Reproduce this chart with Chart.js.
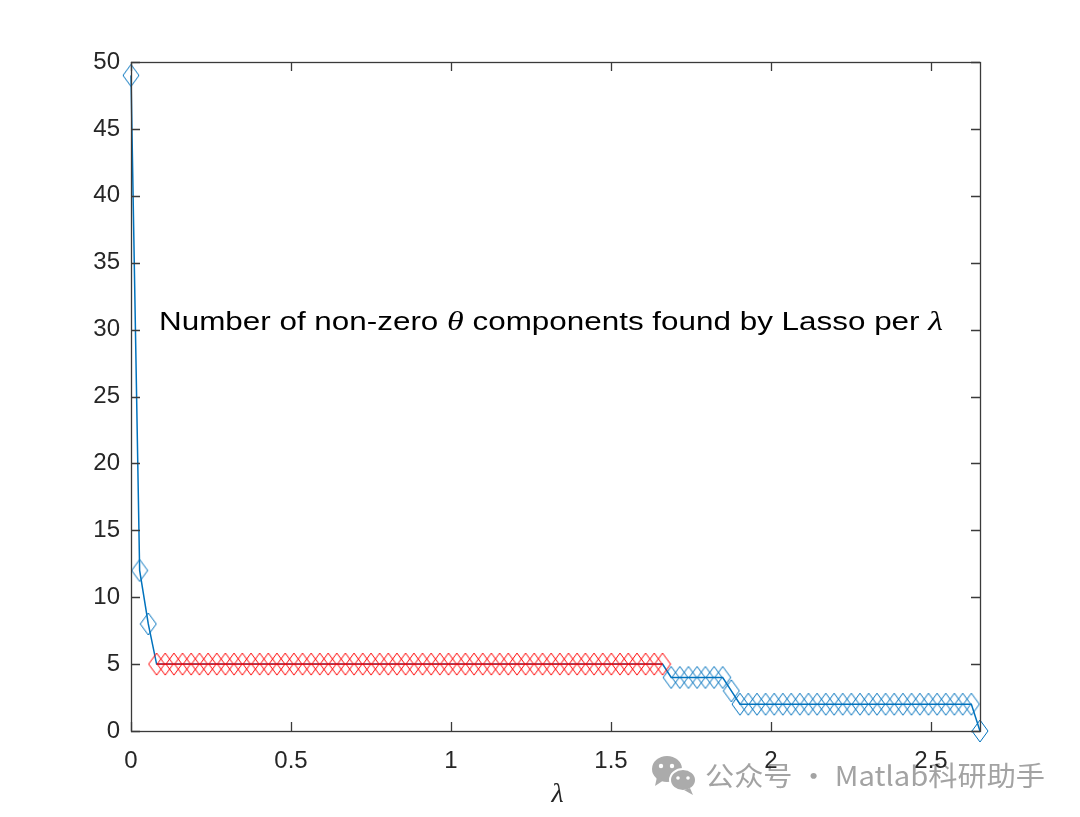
<!DOCTYPE html>
<html>
<head>
<meta charset="utf-8">
<script src="https://cdn.jsdelivr.net/npm/chart.js@4.4.1/dist/chart.umd.min.js"></script>
<style>
  html, body { margin: 0; padding: 0; background: #fff; }
  #grafico { display: block; }
</style>
</head>
<body>
<canvas id="grafico" width="1080" height="817"></canvas>
<script>
// valores de lambda (eixo x)
const lambdas = [
  0.000, 0.027, 0.054, 0.080, 0.107, 0.134, 0.161, 0.188, 0.214, 0.241,
  0.268, 0.295, 0.322, 0.348, 0.375, 0.402, 0.429, 0.456, 0.482, 0.509,
  0.536, 0.563, 0.590, 0.616, 0.643, 0.670, 0.697, 0.724, 0.750, 0.777,
  0.804, 0.831, 0.858, 0.884, 0.911, 0.938, 0.965, 0.992, 1.018, 1.045,
  1.072, 1.099, 1.126, 1.152, 1.179, 1.206, 1.233, 1.260, 1.286, 1.313,
  1.340, 1.367, 1.394, 1.420, 1.447, 1.474, 1.501, 1.528, 1.554, 1.581,
  1.608, 1.635, 1.661, 1.688, 1.715, 1.742, 1.769, 1.795, 1.822, 1.849,
  1.876, 1.903, 1.929, 1.956, 1.983, 2.010, 2.037, 2.063, 2.090, 2.117,
  2.144, 2.171, 2.197, 2.224, 2.251, 2.278, 2.305, 2.331, 2.358, 2.385,
  2.412, 2.439, 2.465, 2.492, 2.519, 2.546, 2.573, 2.599, 2.626, 2.653
];

// numero de componentes nao nulos por lambda
const numNaoNulos = [
  49, 12, 8, 5, 5, 5, 5, 5, 5, 5,
  5, 5, 5, 5, 5, 5, 5, 5, 5, 5,
  5, 5, 5, 5, 5, 5, 5, 5, 5, 5,
  5, 5, 5, 5, 5, 5, 5, 5, 5, 5,
  5, 5, 5, 5, 5, 5, 5, 5, 5, 5,
  5, 5, 5, 5, 5, 5, 5, 5, 5, 5,
  5, 5, 5, 4, 4, 4, 4, 4, 4, 4,
  3, 2, 2, 2, 2, 2, 2, 2, 2, 2,
  2, 2, 2, 2, 2, 2, 2, 2, 2, 2,
  2, 2, 2, 2, 2, 2, 2, 2, 2, 0
];

// trecho destacado em vermelho (indices)
const inicioDestaque = 3;
const fimDestaque = 62;

const xTicks = [0, 0.5, 1, 1.5, 2, 2.5];
const yTicks = [0, 5, 10, 15, 20, 25, 30, 35, 40, 45, 50];
const xMax = 2.653;

const corAzul = '#0072BD';
const corVermelha = '#FF0000';
const corEixo = '#262626';

function criarLosango(cor) {
    let c = document.createElement('canvas');
    c.width = 18;
    c.height = 24;
    let g = c.getContext('2d');
    g.strokeStyle = cor;
    g.lineWidth = 1;
    g.beginPath();
    g.moveTo(9, 1);
    g.lineTo(17, 12);
    g.lineTo(9, 23);
    g.lineTo(1, 12);
    g.closePath();
    g.stroke();
    return c;
}

function pontos(i0, i1) {
    let arr = [];
    for (let i = i0; i <= i1; i++) {
        arr.push({ x: lambdas[i], y: numNaoNulos[i] });
    }
    return arr;
}

const losangoAzul = criarLosango(corAzul);
const losangoVermelho = criarLosango(corVermelha);

const eixosMatlab = {
    id: 'eixosMatlab',
    beforeDraw(chart) {
        // marca d'agua
        const ctx = chart.ctx;
        ctx.save();
        ctx.fillStyle = '#ababab';
        ctx.beginPath();
        ctx.ellipse(667, 769, 15, 13, 0, 0, Math.PI * 2);
        ctx.fill();
        ctx.beginPath();
        ctx.moveTo(657, 777); ctx.lineTo(655, 786); ctx.lineTo(664, 780); ctx.fill();
        ctx.strokeStyle = '#fff';
        ctx.lineWidth = 2;
        ctx.beginPath();
        ctx.ellipse(683, 780, 13, 11, 0, 0, Math.PI * 2);
        ctx.fill();
        ctx.stroke();
        ctx.beginPath();
        ctx.moveTo(690, 788); ctx.lineTo(693, 795); ctx.lineTo(684, 790); ctx.fill();
        ctx.fillStyle = '#fff';
        [[661, 766, 2.2], [672, 766, 2.2], [678, 778, 1.8], [688, 778, 1.8]].forEach(p => {
            ctx.beginPath();
            ctx.arc(p[0], p[1], p[2], 0, Math.PI * 2);
            ctx.fill();
        });
        ctx.fillStyle = '#a3a3a3';
        ctx.font = '27px "Noto Sans CJK SC"';
        ctx.textBaseline = 'alphabetic';
        const wm = '公众号 · Matlab科研助手';
        const w = ctx.measureText(wm).width;
        ctx.save();
        ctx.translate(705, 786);
        ctx.scale(340 / w, 1);
        ctx.fillText(wm, 0, 0);
        ctx.restore();
        ctx.restore();
    },
    afterDraw(chart) {
        const { ctx, chartArea: a, scales: { x, y } } = chart;
        ctx.save();
        ctx.strokeStyle = '#3a3a3a';
        ctx.lineWidth = 1.3;
        ctx.strokeRect(a.left + 0.5, a.top + 0.5, a.right - a.left, a.bottom - a.top);
        const tl = 9;
        ctx.beginPath();
        xTicks.forEach(v => {
            const px = Math.round(x.getPixelForValue(v)) + 0.5;
            ctx.moveTo(px, a.bottom);
            ctx.lineTo(px, a.bottom - tl);
            ctx.moveTo(px, a.top);
            ctx.lineTo(px, a.top + tl);
        });
        yTicks.forEach(v => {
            const py = Math.round(y.getPixelForValue(v)) + 0.5;
            ctx.moveTo(a.left, py);
            ctx.lineTo(a.left + tl, py);
            ctx.moveTo(a.right, py);
            ctx.lineTo(a.right - tl, py);
        });
        ctx.stroke();

        // rotulo do eixo x
        ctx.fillStyle = corEixo;
        ctx.font = 'italic 28px "Liberation Serif"';
        ctx.textAlign = 'center';
        ctx.textBaseline = 'alphabetic';
        ctx.fillText('λ', (a.left + a.right) / 2 + 2, 802);

        // anotacao dentro do grafico
        const partes = [
            ['Number of non-zero ', '24px "Liberation Sans"'],
            ['θ', 'italic 26px "Liberation Serif"'],
            [' components found by Lasso per ', '24px "Liberation Sans"'],
            ['λ', 'italic 26px "Liberation Serif"']
        ];
        let total = 0;
        partes.forEach(p => { ctx.font = p[1]; total += ctx.measureText(p[0]).width; });
        const escala = 784 / total;
        let px = x.getPixelForValue(0.0875);
        const py = y.getPixelForValue(30.0);
        ctx.fillStyle = '#000';
        ctx.textAlign = 'left';
        ctx.save();
        ctx.translate(px, py);
        ctx.scale(escala, 1.08);
        let cx = 0;
        partes.forEach(p => {
            ctx.font = p[1];
            ctx.fillText(p[0], cx, 0);
            cx += ctx.measureText(p[0]).width;
        });
        ctx.restore();
        ctx.restore();
    }
};

new Chart(document.getElementById('grafico').getContext('2d'), {
    type: 'scatter',
    data: {
        datasets: [
            {
                label: 'destaque',
                data: pontos(inicioDestaque, fimDestaque),
                showLine: true,
                borderColor: corVermelha,
                borderWidth: 1.2,
                pointStyle: losangoVermelho,
                clip: false,
                order: 0
            },
            {
                label: 'todos',
                data: pontos(0, lambdas.length - 1),
                showLine: true,
                borderColor: corAzul,
                borderWidth: 1.5,
                pointStyle: c => (c.dataIndex >= inicioDestaque && c.dataIndex <= fimDestaque) ? false : losangoAzul,
                clip: false,
                order: 1
            }
        ]
    },
    options: {
        responsive: false,
        animation: false,
        events: [],
        layout: { padding: { top: 62, right: 100, left: 0, bottom: 0 } },
        plugins: { legend: { display: false }, tooltip: { enabled: false } },
        scales: {
            x: {
                type: 'linear',
                min: 0,
                max: xMax,
                grid: { display: false, drawTicks: false },
                border: { display: false },
                afterBuildTicks: s => { s.ticks = xTicks.map(v => ({ value: v })); },
                afterFit: s => { s.height = 86; },
                ticks: {
                    color: corEixo,
                    padding: 16,
                    maxRotation: 0,
                    font: { family: 'Liberation Sans', size: 24 },
                    callback: v => String(v)
                }
            },
            y: {
                min: 0,
                max: 50,
                grid: { display: false, drawTicks: false },
                border: { display: false },
                afterBuildTicks: s => { s.ticks = yTicks.map(v => ({ value: v })); },
                afterFit: s => { s.width = 131; },
                ticks: {
                    color: corEixo,
                    padding: 11,
                    font: { family: 'Liberation Sans', size: 24 },
                    callback: v => String(v)
                }
            }
        }
    },
    plugins: [eixosMatlab]
});
</script>
</body>
</html>
